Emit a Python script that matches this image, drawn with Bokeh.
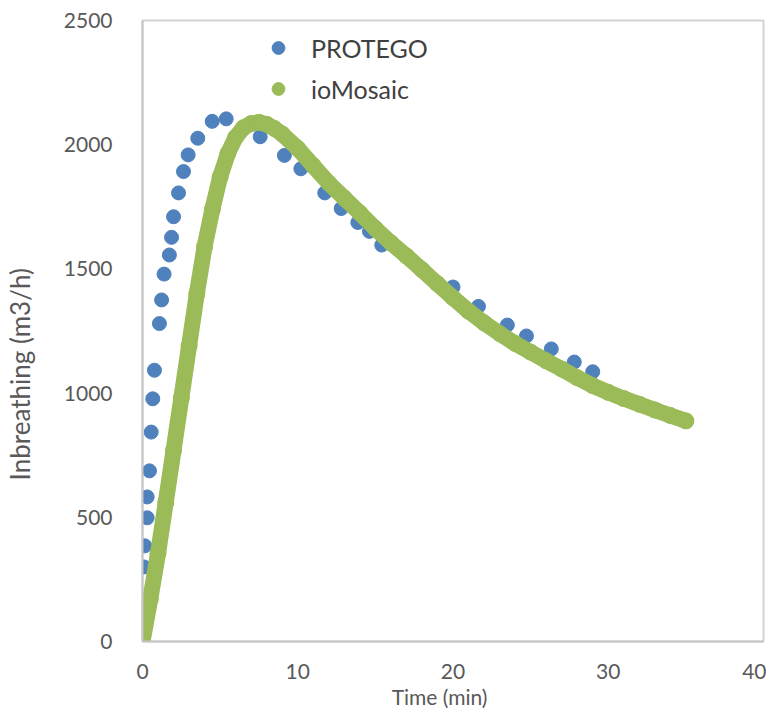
from bokeh.plotting import figure
from bokeh.models import Range1d, FixedTicker, Legend, LegendItem
from bokeh.embed import file_html
from bokeh.resources import INLINE

# PROTEGO (blue) points: time (min), inbreathing (m3/h)
protego_t = [0.0, 0.0, 0.1, 0.15, 0.3, 0.3, 0.45, 0.56, 0.66, 0.77, 1.09, 1.23, 1.39, 1.73, 1.87,
             2.0, 2.32, 2.64, 2.94, 3.56, 4.49, 5.39, 7.58, 9.14, 10.2, 11.74, 12.8, 13.87,
             14.62, 15.41, 20.0, 21.64, 23.5, 24.73, 26.33, 27.81, 29.0]
protego_v = [0, 120, 300, 385, 498, 582, 687, 843, 977, 1092, 1280, 1375, 1479, 1556, 1627,
             1710, 1806, 1892, 1959, 2026, 2094, 2104, 2032, 1957, 1903, 1806, 1743, 1687,
             1651, 1596, 1427, 1349, 1274, 1230, 1178, 1125, 1086]

# ioMosaic (green) points
iomosaic_t = [0, 0.5, 1, 1.5, 2, 2.5, 3, 3.5, 4, 4.5, 5, 5.5, 6, 6.5, 7, 7.5, 8, 8.5, 9,
              10, 11, 12, 13, 14, 15, 16, 17, 18, 19, 20, 21, 22, 23, 24, 25, 26, 27, 28,
              29, 30, 31, 32, 33, 34, 35]
iomosaic_v = [0, 170, 355, 560, 770, 980, 1190, 1400, 1590, 1740, 1870, 1965, 2030, 2068,
              2085, 2090, 2082, 2065, 2043, 1985, 1915, 1845, 1785, 1725, 1662, 1605, 1552,
              1497, 1440, 1384, 1330, 1283, 1240, 1200, 1165, 1130, 1097, 1062, 1030, 1003,
              978, 955, 932, 910, 888]

x_ticks = [0, 10, 20, 30, 40]
y_ticks = [0, 500, 1000, 1500, 2000, 2500]

BLUE = "#4F81BD"
GREEN = "#9BBB59"
FONT = "Lato"
NBSP = "\u00a0"

p = figure(output_backend="svg", toolbar_location=None,
           width=766, height=711,
           min_border_left=141, min_border_right=3, min_border_top=20, min_border_bottom=60,
           x_range=Range1d(0, 40), y_range=Range1d(0, 2500))
p.background_fill_color = "white"
p.border_fill_color = "white"
p.outline_line_color = "#D3D3D3"
p.outline_line_width = 2
p.xgrid.visible = False
p.ygrid.visible = False

for ax in (p.xaxis[0], p.yaxis[0]):
    ax.major_tick_line_color = None
    ax.minor_tick_line_color = None
    ax.axis_line_color = "#C6C6C6"
    ax.axis_line_width = 2
    ax.major_label_text_font = FONT
    ax.major_label_text_font_size = "21px"
    ax.major_label_text_color = "#595959"
    ax.axis_label_text_font = FONT
    ax.axis_label_text_font_style = "normal"
    ax.axis_label_text_color = "#595959"
p.xaxis[0].ticker = FixedTicker(ticks=x_ticks)
p.yaxis[0].ticker = FixedTicker(ticks=y_ticks)
p.xaxis[0].major_label_standoff = 16
p.yaxis[0].major_label_standoff = 24
p.xaxis[0].axis_label = "Time (min)" + NBSP * 5
p.xaxis[0].axis_label_text_font_size = "21px"
p.xaxis[0].axis_label_standoff = 2
p.yaxis[0].axis_label = "Inbreathing (m3/h)" + NBSP * 13
p.yaxis[0].axis_label_text_font_size = "26px"
p.yaxis[0].axis_label_standoff = 25

blue = p.scatter(protego_t, protego_v, size=14, fill_color=BLUE, line_color=BLUE, marker="circle")
p.line(iomosaic_t, iomosaic_v, line_width=16, line_color=GREEN, line_join="round", line_cap="round")
green = p.scatter(iomosaic_t, iomosaic_v, size=16, fill_color=GREEN, line_color=GREEN, marker="circle")

legend = Legend(items=[LegendItem(label="PROTEGO", renderers=[blue]),
                       LegendItem(label="ioMosaic", renderers=[green])],
                location=(120, 532), orientation="vertical",
                glyph_width=32, glyph_height=41, label_height=41, label_standoff=17,
                spacing=0, padding=0, margin=0,
                border_line_color=None, background_fill_alpha=0,
                label_text_font=FONT, label_text_font_size="25px", label_text_color="#404040",
                label_text_baseline="middle")
p.add_layout(legend, "center")

open("out.html", "w").write(file_html(p, INLINE))
